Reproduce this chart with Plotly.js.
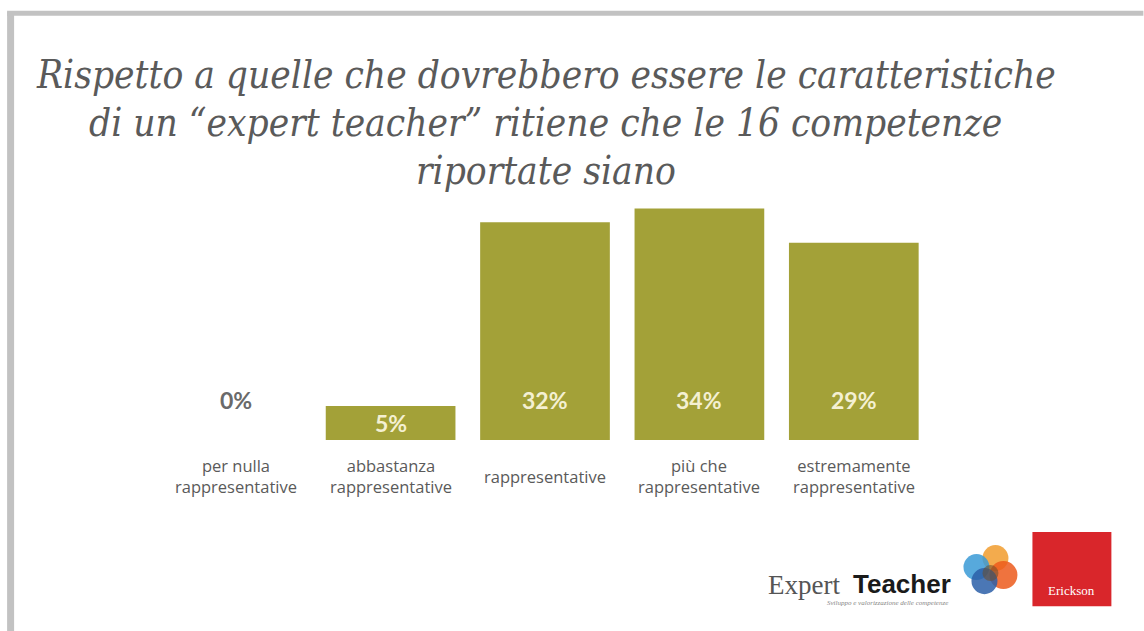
<!DOCTYPE html>
<html>
<head>
<meta charset="utf-8">
<script src="https://cdn.plot.ly/plotly-3.0.1.min.js"></script>
<style>html,body{margin:0;padding:0;background:#fff;}#chart{width:1144px;height:631px;}</style>
</head>
<body>
<div id="chart"></div>
<script>
// ---- data ----
const categories = ["per nulla<br>rappresentative", "abbastanza<br>rappresentative", "rappresentative", "più che<br>rappresentative", "estremamente<br>rappresentative"];
const values = [0, 5, 32, 34, 29];
const valueLabels = ["0%", "5%", "32%", "34%", "29%"];
const titleLines = [
  "Rispetto a quelle che dovrebbero essere le caratteristiche",
  "di un “expert teacher” ritiene che le 16 competenze",
  "riportate siano"
];

// ---- geometry helpers (plot area: left 159, width 772.5, bottom 440, height 244.8) ----
const W = 1144, H = 631;
const L = 159, PW = 772.5, B = 440, PH = 244.8;
const px = x => (x - L) / PW;
const py = y => (B - y) / PH;

const xs = categories.map((_, i) => i);

const trace = {
  type: 'bar',
  x: xs,
  y: values,
  width: 0.84,
  marker: {color: '#a3a138', line: {width: 0}},
  hoverinfo: 'skip'
};

const annotations = [];
// title lines
const titleY = [75, 123, 171];
titleLines.forEach((t, i) => annotations.push({
  text: t, xref: 'paper', yref: 'paper', x: px(546), y: py(titleY[i]),
  xanchor: 'center', yanchor: 'middle', showarrow: false,
  font: {family: 'DejaVu Serif Condensed', style: 'italic', size: 38.5, color: '#5a5a5a'}
}));
// value labels
values.forEach((v, i) => {
  const yv = v === 0 ? 5.9 : Math.min(5.9, v / 2);
  annotations.push({
    text: '<b>' + valueLabels[i] + '</b>', x: i, y: yv, xref: 'x', yref: 'y',
    showarrow: false, xanchor: 'center', yanchor: 'middle',
    font: {family: 'Lato', size: 23, color: v === 0 ? '#6a6a6a' : '#f4f0d2'}
  });
});
// category labels
categories.forEach((c, i) => annotations.push({
  text: c, x: i, y: py(476), xref: 'x', yref: 'paper', showarrow: false,
  xanchor: 'center', yanchor: 'middle', align: 'center',
  font: {family: 'Open Sans', size: 16.5, color: '#5a5a5a'}
}));
// logo texts
annotations.push({text: 'Expert', xref: 'paper', yref: 'paper', x: px(766), y: py(585), xanchor: 'left', yanchor: 'middle', showarrow: false,
  font: {family: 'Liberation Serif', size: 27, color: '#555'}});
annotations.push({text: '<b>Teacher</b>', xref: 'paper', yref: 'paper', x: px(851), y: py(584), xanchor: 'left', yanchor: 'middle', showarrow: false,
  font: {family: 'Liberation Sans', size: 26, color: '#1a1a1a'}});
annotations.push({text: 'Sviluppo e valorizzazione delle competenze', xref: 'paper', yref: 'paper', x: px(888), y: py(603), xanchor: 'center', yanchor: 'middle', showarrow: false,
  font: {family: 'Liberation Serif', style: 'italic', size: 7, color: '#888'}});
annotations.push({text: 'Erickson', xref: 'paper', yref: 'paper', x: px(1072), y: py(590), xanchor: 'center', yanchor: 'middle', showarrow: false,
  font: {family: 'Liberation Serif', size: 13, color: '#fff'}});

const rectP = (x0, y0, x1, y1, color) => ({
  type: 'rect', xref: 'paper', yref: 'paper', x0: px(x0), x1: px(x1), y0: py(y0), y1: py(y1),
  fillcolor: color, line: {width: 0}, layer: 'below'
});
const circ = (cx, cy, r, color, op) => ({
  type: 'circle', xref: 'paper', yref: 'paper', x0: px(cx - r), x1: px(cx + r), y0: py(cy + r), y1: py(cy - r),
  fillcolor: color, opacity: op, line: {width: 0}, layer: 'above'
});

const shapes = [
  rectP(7, 12, 14, 631, '#c2c2c2'),
  rectP(7, 11, 1144, 16, '#c2c2c2'),
  rectP(1033, 532, 1112, 606, '#d9262b'),
  circ(996, 558, 13, '#f2a23a', 0.9),
  circ(977, 567, 13, '#3a9ad6', 0.85),
  circ(1004, 575, 14, '#ec5a1c', 0.85),
  circ(985, 581, 13, '#2b5fa8', 0.85),
  circ(991, 573, 8, '#6b4a2a', 0.55)
];

const layout = {
  width: W, height: H,
  margin: {l: L, r: W - L - PW, t: B - PH, b: H - B, pad: 0},
  paper_bgcolor: '#ffffff', plot_bgcolor: 'rgba(0,0,0,0)',
  showlegend: false,
  xaxis: {range: [-0.5, 4.5], showticklabels: false, showgrid: false, zeroline: false, showline: false, ticks: '', fixedrange: true},
  yaxis: {range: [0, PH / 6.8], showticklabels: false, showgrid: false, zeroline: false, showline: false, ticks: '', fixedrange: true},
  annotations: annotations,
  shapes: shapes
};

Plotly.newPlot('chart', [trace], layout, {displayModeBar: false, staticPlot: true});
</script>
</body>
</html>
